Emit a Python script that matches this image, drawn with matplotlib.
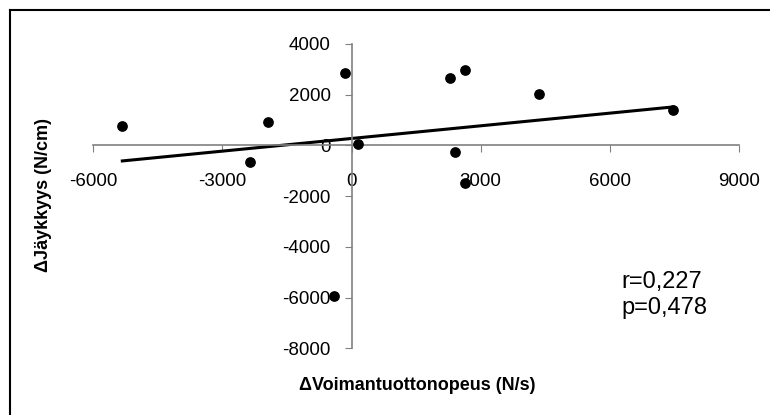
import numpy as np
import matplotlib.pyplot as plt
from matplotlib.lines import Line2D

plt.rcParams['font.family'] = ['Liberation Sans', 'DejaVu Sans']
plt.rcParams['axes.unicode_minus'] = False

# change in rate of force development (N/s) vs change in stiffness (N/cm)
voima = [-5320, -1950, -2360, -150, 150, 2290, 2630, 4350, 7460, 2400, 2630, -400]
jaykkyys = [750, 940, -670, 2840, 50, 2650, 2960, 2020, 1380, -280, -1490, -5930]
x_ticks = [-6000, -3000, 0, 3000, 6000, 9000]
y_ticks = [-8000, -6000, -4000, -2000, 0, 2000, 4000]

fig = plt.figure(figsize=(7.7, 4.15), dpi=100)
ax = fig.add_axes([0.1208, 0.1607, 0.8393, 0.7335])

ax.scatter(voima, jaykkyys, s=45, color='black', zorder=3)

k, b = np.polyfit(voima, jaykkyys, 1)
xl = np.array([min(voima), max(voima)])
ax.plot(xl, k * xl + b, color='black', lw=2.2, zorder=2)

ax.set_xlim(-6000, 9000)
ax.set_ylim(-8000, 4000)
ax.set_xticks(x_ticks)
ax.set_yticks(y_ticks)

ax.spines['left'].set_position(('data', 0))
ax.spines['bottom'].set_position(('data', 0))
ax.spines['top'].set_visible(False)
ax.spines['right'].set_visible(False)
for s in ['left', 'bottom']:
    ax.spines[s].set_color('#808080')
    ax.spines[s].set_linewidth(1.2)

ax.tick_params(axis='x', direction='in', length=5, color='#808080', pad=20, labelsize=13.5)
ax.tick_params(axis='y', direction='out', length=5, color='#808080', pad=10, labelsize=13.5)
# ticks on x point downward below the axis
for t in ax.xaxis.get_major_ticks():
    t.tick1line.set_marker(3)

fig.text(0.5416, 0.072, '\u0394Voimantuottonopeus (N/s)', ha='center', va='center',
         fontsize=13, fontweight='bold')
fig.text(0.056, 0.53, '\u0394J\u00e4ykkyys (N/cm)', ha='center', va='center',
         rotation=90, fontsize=13, fontweight='bold')

ax.text(0.807, 0.29, 'r=0,227\np=0,478', transform=fig.transFigure, fontsize=17,
        ha='left', va='center', linespacing=1.25)

# frame only on top and left, like the cropped original
x0 = 9.5 / 770
y0 = 1 - 10 / 415
fig.lines.append(Line2D([x0, 1], [y0, y0], transform=fig.transFigure, color='black', lw=1.5))
fig.lines.append(Line2D([x0, x0], [0, y0], transform=fig.transFigure, color='black', lw=1.5))

fig.savefig('out.png', dpi=100)
